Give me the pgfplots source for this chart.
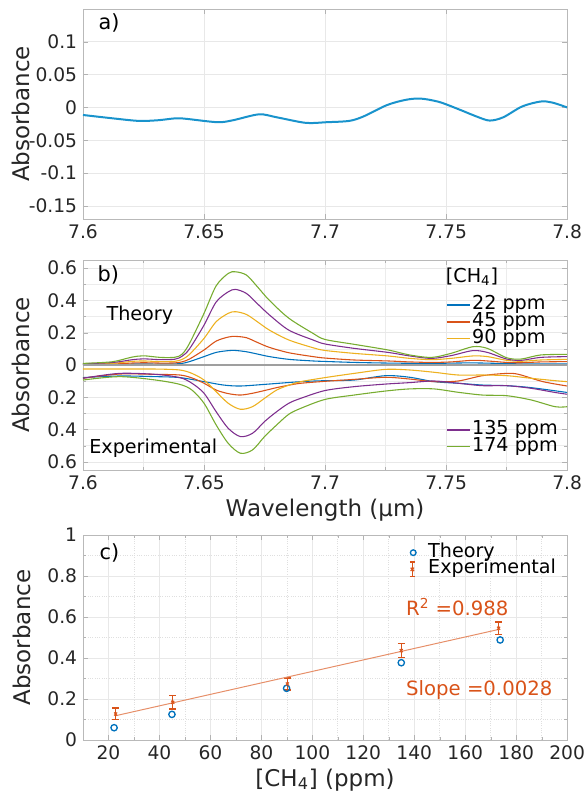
\documentclass[border=0pt]{standalone}
\usepackage{fontspec}
\setmainfont{DejaVu Sans}
\usepackage{pgfplots}
\pgfplotsset{compat=1.18}

\definecolor{mblue}{rgb}{0,0.447,0.741}
\definecolor{morange}{rgb}{0.85,0.325,0.098}
\definecolor{myellow}{rgb}{0.929,0.694,0.125}
\definecolor{mpurple}{rgb}{0.494,0.184,0.556}
\definecolor{mgreen}{rgb}{0.466,0.674,0.188}
\definecolor{txt}{gray}{0.15}

\pgfplotsset{
  mstyle/.style={
    scale only axis,
    width=290.5pt,
    axis line style={gray!55},
    tick style={gray!60},
    tick align=inside,
    major tick length=3pt,
    minor tick length=1.8pt,
    major grid style={gray!18},
    minor grid style={gray!15},
    tick label style={font=\fontsize{11.2}{13}\selectfont, text=txt},
    label style={font=\fontsize{13.8}{16}\selectfont, text=txt},
    /pgf/number format/assume math mode=true,
    ylabel style={at={(axis description cs:-0.128,0.5)}, anchor=center},
  },
  leg/.style={
    legend style={draw=none, fill=none, inner sep=0pt, row sep=0pt,
      font=\fontsize{11.5}{13}\selectfont,
      nodes={inner sep=0.5pt, text height=7.2pt, text depth=1.8pt},
      cells={anchor=west}},
  },
  linelegend/.style={legend image code/.code={
    \draw[##1, line width=0.95pt] (0.05cm,0cm) -- (0.55cm,0cm);}},
  legaxis/.style={leg, scale only axis, width=290.5pt, height=126pt,
    at={(0,-150.6pt)}, anchor=south west, hide axis, xmin=0, xmax=1, ymin=0, ymax=1},
}

\begin{document}
\begin{tikzpicture}
% ---------------- a) ----------------
\begin{axis}[mstyle, at={(0,0)}, anchor=south west, height=126pt,
  xmin=7.6, xmax=7.8, ymin=-0.17, ymax=0.15, grid=major,
  xtick={7.6,7.65,7.7,7.75,7.8}, xticklabels={7.6,7.65,7.7,7.75,7.8},
  ytick={-0.15,-0.1,-0.05,0,0.05,0.1}, yticklabels={-0.15,-0.1,-0.05,0,0.05,0.1},
  ylabel={Absorbance}]
\addplot[color=mblue!85!cyan!90!white, line width=1.2pt, smooth] coordinates {
 (7.600,-0.0115) (7.612,-0.0165) (7.623,-0.0205) (7.631,-0.0195)
 (7.6385,-0.0165) (7.643,-0.0175) (7.6556,-0.0225) (7.662,-0.0195)
 (7.6727,-0.0105) (7.680,-0.015) (7.692,-0.0235) (7.7006,-0.0225)
 (7.710,-0.0205) (7.716,-0.0135) (7.7255,0.0035) (7.7332,0.0115)
 (7.7394,0.0135) (7.747,0.0085) (7.755,-0.0025) (7.7627,-0.014)
 (7.768,-0.020) (7.7736,-0.015) (7.7814,0.0015) (7.789,0.009)
 (7.7938,0.0075) (7.800,0.000)};
\node[anchor=west, font=\fontsize{12.5}{14}\selectfont, text=black] at (rel axis cs:0.02,0.932) {a)};
\end{axis}

% ---------------- b) ----------------
\begin{axis}[mstyle, at={(0,-150.6pt)}, anchor=south west, height=126pt,
  xmin=7.6, xmax=7.8, ymin=-0.65, ymax=0.65, grid=both,
  xtick={7.6,7.65,7.7,7.75,7.8}, xticklabels={7.6,7.65,7.7,7.75,7.8},
  minor xtick={7.625,7.675,7.725,7.775},
  ytick={-0.6,-0.4,-0.2,0,0.2,0.4,0.6}, yticklabels={0.6,0.4,0.2,0,0.2,0.4,0.6},
  minor ytick={-0.5,-0.3,-0.1,0.1,0.3,0.5},
  ylabel={Absorbance}, xlabel={Wavelength (µm)},
  xlabel style={at={(axis description cs:0.5,-0.19)}, anchor=center},
  every axis plot/.append style={line width=0.65pt, smooth}]
% theory
\addplot[mblue] coordinates {
 (7.600,0.002) (7.612,0.003) (7.620,0.006) (7.625,0.006) (7.632,0.006)
 (7.638,0.007) (7.641,0.010) (7.644,0.021) (7.650,0.052) (7.655,0.078)
 (7.660,0.089) (7.663,0.090) (7.6675,0.082) (7.672,0.068) (7.677,0.052)
 (7.685,0.035) (7.695,0.025) (7.700,0.022) (7.712,0.016) (7.726,0.012)
 (7.744,0.010) (7.761,0.013) (7.781,0.007) (7.800,0.006)};
\addplot[morange] coordinates {
 (7.600,0.004) (7.612,0.006) (7.620,0.012) (7.625,0.014) (7.632,0.012)
 (7.638,0.013) (7.641,0.020) (7.644,0.037) (7.650,0.093) (7.655,0.148)
 (7.660,0.173) (7.663,0.177) (7.6675,0.169) (7.672,0.140) (7.677,0.109)
 (7.685,0.076) (7.695,0.052) (7.700,0.043) (7.712,0.031) (7.726,0.025)
 (7.735,0.019) (7.744,0.016) (7.752,0.019) (7.761,0.029) (7.767,0.025)
 (7.775,0.016) (7.781,0.014) (7.789,0.019) (7.800,0.021)};
\addplot[myellow] coordinates {
 (7.600,0.006) (7.612,0.010) (7.620,0.022) (7.625,0.025) (7.632,0.021)
 (7.638,0.023) (7.641,0.035) (7.644,0.066) (7.650,0.165) (7.655,0.268)
 (7.660,0.320) (7.663,0.330) (7.6675,0.313) (7.672,0.268) (7.677,0.216)
 (7.685,0.155) (7.695,0.107) (7.700,0.090) (7.712,0.072) (7.726,0.056)
 (7.735,0.041) (7.744,0.033) (7.752,0.041) (7.761,0.056) (7.767,0.052)
 (7.775,0.029) (7.781,0.023) (7.789,0.031) (7.800,0.035)};
\addplot[mpurple] coordinates {
 (7.600,0.008) (7.612,0.015) (7.620,0.032) (7.625,0.038) (7.632,0.033)
 (7.638,0.036) (7.641,0.055) (7.644,0.100) (7.650,0.247) (7.655,0.390)
 (7.660,0.453) (7.663,0.468) (7.6675,0.443) (7.672,0.380) (7.677,0.310)
 (7.685,0.216) (7.695,0.155) (7.700,0.130) (7.712,0.103) (7.726,0.078)
 (7.735,0.056) (7.744,0.041) (7.752,0.058) (7.761,0.089) (7.767,0.078)
 (7.775,0.037) (7.781,0.029) (7.789,0.047) (7.800,0.052)};
\addplot[mgreen] coordinates {
 (7.600,0.010) (7.612,0.020) (7.620,0.048) (7.625,0.057) (7.632,0.047)
 (7.638,0.048) (7.641,0.068) (7.644,0.134) (7.650,0.320) (7.655,0.490)
 (7.660,0.567) (7.663,0.577) (7.6675,0.557) (7.672,0.485) (7.677,0.400)
 (7.685,0.290) (7.695,0.196) (7.700,0.158) (7.712,0.128) (7.726,0.093)
 (7.735,0.062) (7.744,0.047) (7.752,0.072) (7.761,0.113) (7.767,0.103)
 (7.775,0.045) (7.781,0.037) (7.789,0.062) (7.800,0.066)};
% experimental
\addplot[mblue] coordinates {
 (7.600,-0.078) (7.615,-0.068) (7.630,-0.072) (7.640,-0.078) (7.650,-0.103)
 (7.658,-0.124) (7.665,-0.130) (7.675,-0.120) (7.690,-0.103) (7.700,-0.097)
 (7.712,-0.093) (7.725,-0.066) (7.735,-0.076) (7.745,-0.103) (7.755,-0.113)
 (7.765,-0.124) (7.775,-0.128) (7.785,-0.140) (7.800,-0.170)};
\addplot[morange] coordinates {
 (7.600,-0.082) (7.615,-0.056) (7.630,-0.058) (7.640,-0.062) (7.645,-0.080)
 (7.650,-0.113) (7.655,-0.155) (7.660,-0.177) (7.665,-0.186) (7.670,-0.175)
 (7.675,-0.158) (7.680,-0.140) (7.685,-0.125) (7.690,-0.113) (7.700,-0.101)
 (7.712,-0.089) (7.725,-0.076) (7.735,-0.087) (7.745,-0.103) (7.755,-0.099)
 (7.765,-0.066) (7.775,-0.052) (7.780,-0.058) (7.790,-0.103) (7.800,-0.130)};
\addplot[myellow] coordinates {
 (7.600,-0.025) (7.615,-0.025) (7.630,-0.025) (7.640,-0.031) (7.645,-0.052)
 (7.650,-0.093) (7.655,-0.165) (7.660,-0.237) (7.665,-0.274) (7.670,-0.258)
 (7.675,-0.206) (7.680,-0.155) (7.685,-0.125) (7.690,-0.103) (7.700,-0.078)
 (7.712,-0.052) (7.725,-0.027) (7.735,-0.031) (7.745,-0.045) (7.755,-0.062)
 (7.765,-0.062) (7.775,-0.066) (7.785,-0.082) (7.795,-0.097) (7.800,-0.103)};
\addplot[mpurple] coordinates {
 (7.600,-0.082) (7.615,-0.052) (7.630,-0.058) (7.640,-0.078) (7.645,-0.113)
 (7.650,-0.175) (7.655,-0.289) (7.660,-0.392) (7.665,-0.443) (7.670,-0.423)
 (7.675,-0.350) (7.680,-0.289) (7.685,-0.237) (7.690,-0.206) (7.700,-0.158)
 (7.712,-0.134) (7.725,-0.118) (7.735,-0.109) (7.745,-0.099) (7.755,-0.113)
 (7.765,-0.128) (7.775,-0.128) (7.785,-0.144) (7.795,-0.170) (7.800,-0.181)};
\addplot[mgreen] coordinates {
 (7.600,-0.093) (7.615,-0.072) (7.630,-0.093) (7.640,-0.120) (7.645,-0.155)
 (7.650,-0.237) (7.655,-0.371) (7.660,-0.485) (7.665,-0.546) (7.670,-0.526)
 (7.675,-0.443) (7.680,-0.371) (7.685,-0.305) (7.690,-0.268) (7.700,-0.213)
 (7.712,-0.186) (7.725,-0.161) (7.735,-0.148) (7.745,-0.148) (7.755,-0.169)
 (7.765,-0.186) (7.775,-0.190) (7.785,-0.216) (7.795,-0.258) (7.800,-0.258)};
\addplot[gray!75, line width=0.9pt, sharp plot] coordinates {(7.6,0) (7.8,0)};
\node[anchor=west, font=\fontsize{12.5}{14}\selectfont, text=black] at (rel axis cs:0.018,0.929) {b)};
\node[font=\fontsize{11.5}{13}\selectfont, text=black] at (axis cs:7.6235,0.309) {Theory};
\node[font=\fontsize{11.5}{13}\selectfont, text=black] at (axis cs:7.629,-0.513) {Experimental};
\node[anchor=west, font=\fontsize{11.5}{13}\selectfont, text=black, inner sep=0pt] at (rel axis cs:0.749,0.92) {[CH\textsubscript{4}]};
\end{axis}
% legend blocks of b)
\begin{axis}[legaxis, legend style={at={(0.749,0.826)}, anchor=north west}]
\addlegendimage{mblue, linelegend}
\addlegendentry{22 ppm}
\addlegendimage{morange, linelegend}
\addlegendentry{45 ppm}
\addlegendimage{myellow, linelegend}
\addlegendentry{90 ppm}
\end{axis}
\begin{axis}[legaxis, legend style={at={(0.749,0.232)}, anchor=north west}]
\addlegendimage{mpurple, linelegend}
\addlegendentry{135 ppm}
\addlegendimage{mgreen, linelegend}
\addlegendentry{174 ppm}
\end{axis}

% ---------------- c) ----------------
\begin{axis}[mstyle, leg, at={(0,-312.6pt)}, anchor=south west, height=123pt,
  xmin=10, xmax=200, ymin=0, ymax=1, grid=both,
  minor grid style={gray!25, densely dotted},
  xtick={20,40,...,200}, xticklabels={20,40,60,80,100,120,140,160,180,200},
  minor xtick={10,30,...,190},
  ytick={0,0.2,0.4,0.6,0.8,1}, yticklabels={0,0.2,0.4,0.6,0.8,1},
  minor ytick={0.1,0.3,0.5,0.7,0.9},
  ylabel={Absorbance}, xlabel={[CH\textsubscript{4}] (ppm)},
  ylabel style={at={(axis description cs:-0.126,0.5)}, anchor=center},
  xlabel style={at={(axis description cs:0.5,-0.195)}, anchor=center},
  legend style={at={(0.668,0.956)}, anchor=north west}]
\addplot[only marks, mark=o, mark size=1.9pt, color=mblue, mark options={line width=0.8pt},
  legend image code/.code={\draw[mblue, line width=0.8pt] (0.13cm,0cm) circle (1.7pt);
    \path (0cm,0cm) (0.42cm,0cm);}] coordinates {
 (22.2,0.060) (44.9,0.125) (89.9,0.252) (134.9,0.377) (173.7,0.488)};
\addlegendentry{Theory}
\addplot[only marks, mark=x, mark size=1.3pt, color=morange, mark options={line width=0.7pt},
  error bars/.cd, y dir=both, y explicit,
  error bar style={line width=0.9pt},
  error mark options={rotate=90, mark size=2.1pt, line width=0.9pt},
  /pgfplots/legend image code/.code={
    \draw[morange, line width=0.9pt] (0.11cm,-4.3pt) -- (0.11cm,4.3pt)
      (0.11cm,-4.3pt) ++(-1.5pt,0) -- ++(3pt,0)
      (0.11cm,4.3pt) ++(-1.5pt,0) -- ++(3pt,0);
    \draw[morange, line width=0.7pt] (0.11cm,0cm) ++(-1pt,-1pt) -- ++(2pt,2pt)
      (0.11cm,0cm) ++(-1pt,1pt) -- ++(2pt,-2pt);
    \path (0cm,0cm) (0.42cm,0cm);}
  ] coordinates {
 (22.8,0.127) +- (0,0.028)
 (45.2,0.184) +- (0,0.032)
 (90.2,0.273) +- (0,0.030)
 (134.9,0.436) +- (0,0.034)
 (173.1,0.545) +- (0,0.030)};
\addlegendentry{Experimental}
\addplot[forget plot, color=morange!65, line width=0.6pt] coordinates {(23,0.119) (173,0.539)};
\node[anchor=west, font=\fontsize{12.5}{14}\selectfont, text=black] at (rel axis cs:0.022,0.912) {c)};
\node[anchor=west, inner sep=0pt, font=\fontsize{11.8}{14}\selectfont, text=morange] at (axis cs:136.7,0.65) {R\textsuperscript{2} =0.988};
\node[anchor=west, inner sep=0pt, font=\fontsize{11.8}{14}\selectfont, text=morange] at (axis cs:136.7,0.244) {Slope =0.0028};
\end{axis}

\pgfresetboundingbox
\path[use as bounding box] (-49.8pt,-345pt) rectangle (301.2pt,131.4pt);
\end{tikzpicture}
\end{document}
